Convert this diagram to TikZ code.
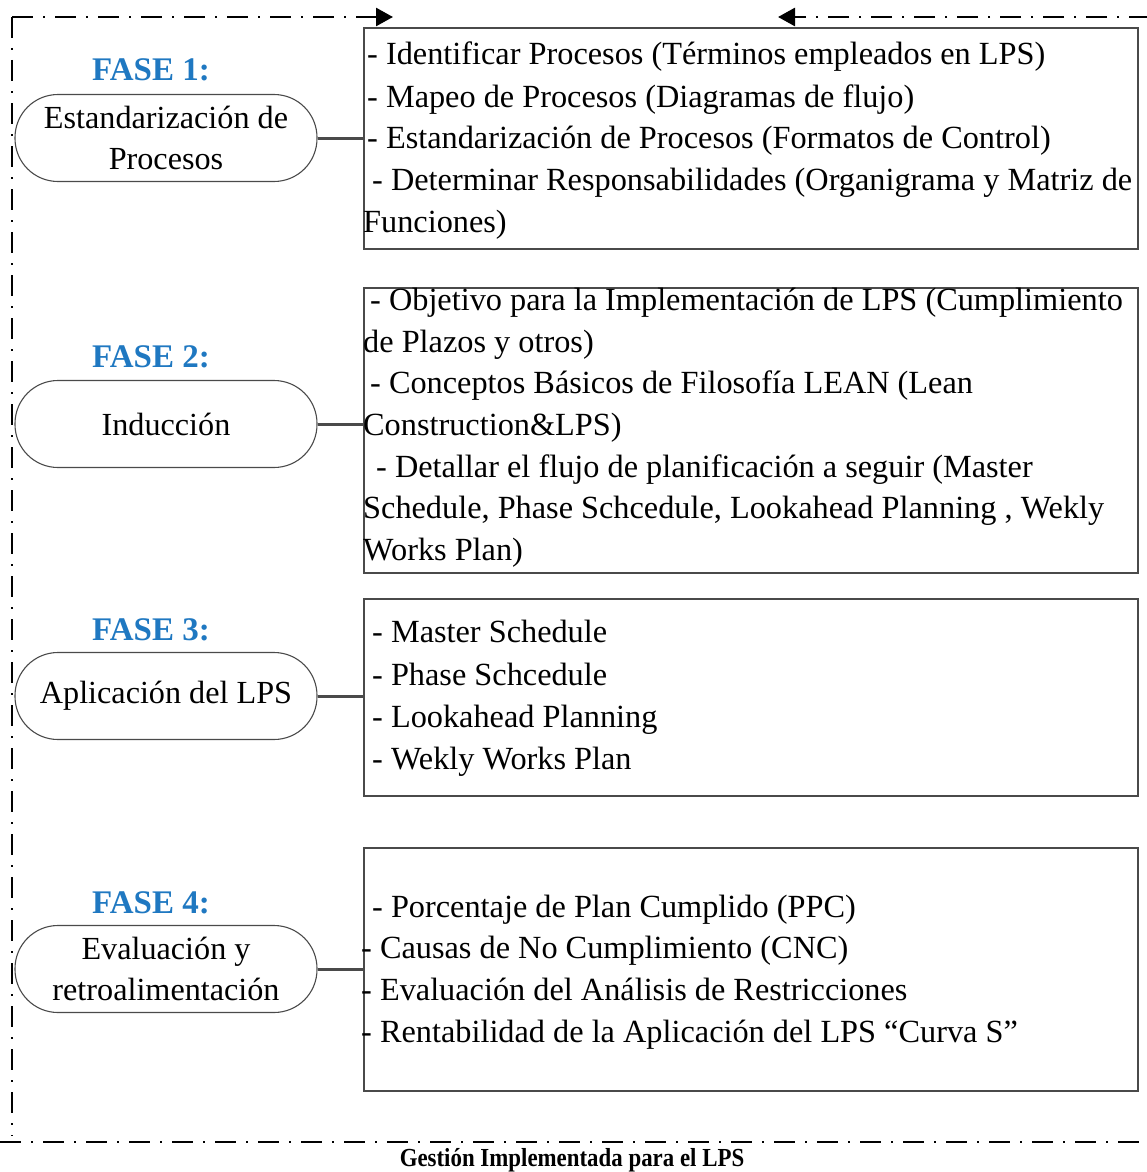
\documentclass[tikz,border=0pt]{standalone}
\usepackage{fontspec}
\setmainfont{Liberation Serif}
\usetikzlibrary{arrows.meta}
\definecolor{faseblue}{HTML}{1F78C1}
\definecolor{boxgray}{HTML}{4A4A4A}
\begin{document}
\begin{tikzpicture}[x=1pt,y=-1pt,
  frame/.style={line width=2.7pt,dash pattern=on 21pt off 10pt on 2pt off 10pt},
  tip/.style={-{Triangle[length=17pt,width=18pt]}},
  phase/.style={draw=boxgray,line width=1.1pt,rectangle,rounded corners=43pt,
    minimum width=302pt,minimum height=87pt,inner sep=0pt,align=center,
    font=\fontsize{32.2}{41.5}\selectfont},
  fase/.style={text=faseblue,font=\fontsize{33}{36}\selectfont\bfseries,inner sep=0pt,anchor=base},
  listbox/.style={draw=boxgray,line width=2.2pt,rectangle,inner sep=0pt,anchor=north west},
  item/.style={anchor=base west,inner sep=0pt,font=\fontsize{32.3}{41.5}\selectfont},
  link/.style={draw=boxgray,line width=3pt}]
\useasboundingbox (0,0) rectangle (1147,1172);

% dash-dot frame around the whole procedure
\coordinate (tl) at (12,17);
\coordinate (ta) at (393,17);
\coordinate (tr) at (1150,17);
\coordinate (tb) at (778,17);
\coordinate (bl) at (12,1136);
\coordinate (bs) at (0,1142);
\coordinate (be) at (1147,1142);
\draw[frame,tip] (tl) -- (ta);
\draw[frame,tip] (tr) -- (tb);
\draw[frame] (tl) -- (bl);
\draw[frame] (bs) -- (be);

% list boxes
\node[listbox,minimum width=774pt,minimum height=221pt] (b1) at (363,27) {};
\node[listbox,minimum width=774pt,minimum height=285pt] (b2) at (363,287) {};
\node[listbox,minimum width=774pt,minimum height=197pt] (b3) at (363,598) {};
\node[listbox,minimum width=774pt,minimum height=243pt] (b4) at (363,847) {};

% phases
\node[fase] (f1) at (151,81) {FASE 1:};
\node[fase] (f2) at (151,367) {FASE 2:};
\node[fase] (f3) at (151,640) {FASE 3:};
\node[fase] (f4) at (151,913) {FASE 4:};

\node[phase] (p1) at (166,138) {Estandarización de\\Procesos};
\node[phase] (p2) at (166,424) {Inducción};
\node[phase] (p3) at (166,696) {Aplicación del LPS};
\node[phase] (p4) at (166,969) {Evaluación y\\retroalimentación};

\draw[link] (p1.east) -- (p1.east -| b1.west);
\draw[link] (p2.east) -- (p2.east -| b2.west);
\draw[link] (p3.east) -- (p3.east -| b3.west);
\draw[link] (p4.east) -- (p4.east -| b4.west);

% contents of the boxes
\foreach \x/\y/\t [count=\i] in {
  367/65/{- Identificar Procesos (Términos empleados en LPS)},
  367/107/{- Mapeo de Procesos (Diagramas de flujo)},
  367/148/{- Estandarización de Procesos (Formatos de Control)},
  372/190/{- Determinar Responsabilidades (Organigrama y Matriz de},
  363/232/{Funciones)}}
  \node[item] (a\i) at (\x,\y) {\t};

\foreach \x/\y/\t [count=\i] in {
  370/310/{- Objetivo para la Implementación de LPS (Cumplimiento},
  363/352/{de Plazos y otros)},
  370/393/{- Conceptos Básicos de Filosofía LEAN (Lean},
  363/435/{Construction\&LPS)},
  376/477/{- Detallar el flujo de planificación a seguir (Master},
  363/518/{Schedule, Phase Schcedule, Lookahead Planning , Wekly},
  363/560/{Works Plan)}}
  \node[item] (c\i) at (\x,\y) {\t};

\foreach \x/\y/\t [count=\i] in {
  372/642/{- Master Schedule},
  372/685/{- Phase Schcedule},
  372/727/{- Lookahead Planning},
  372/769/{- Wekly Works Plan}}
  \node[item] (d\i) at (\x,\y) {\t};

\foreach \x/\y/\t [count=\i] in {
  372/917/{- Porcentaje de Plan Cumplido (PPC)},
  361/958/{- Causas de No Cumplimiento (CNC)},
  361/1000/{- Evaluación del Análisis de Restricciones},
  361/1042/{- Rentabilidad de la Aplicación del LPS “Curva S”}}
  \node[item] (e\i) at (\x,\y) {\t};

% caption
\node[anchor=base,inner sep=0pt,xscale=0.88,font=\fontsize{26}{30}\selectfont\bfseries] (cap) at (572,1166) {Gestión Implementada para el LPS};
\end{tikzpicture}
\end{document}
